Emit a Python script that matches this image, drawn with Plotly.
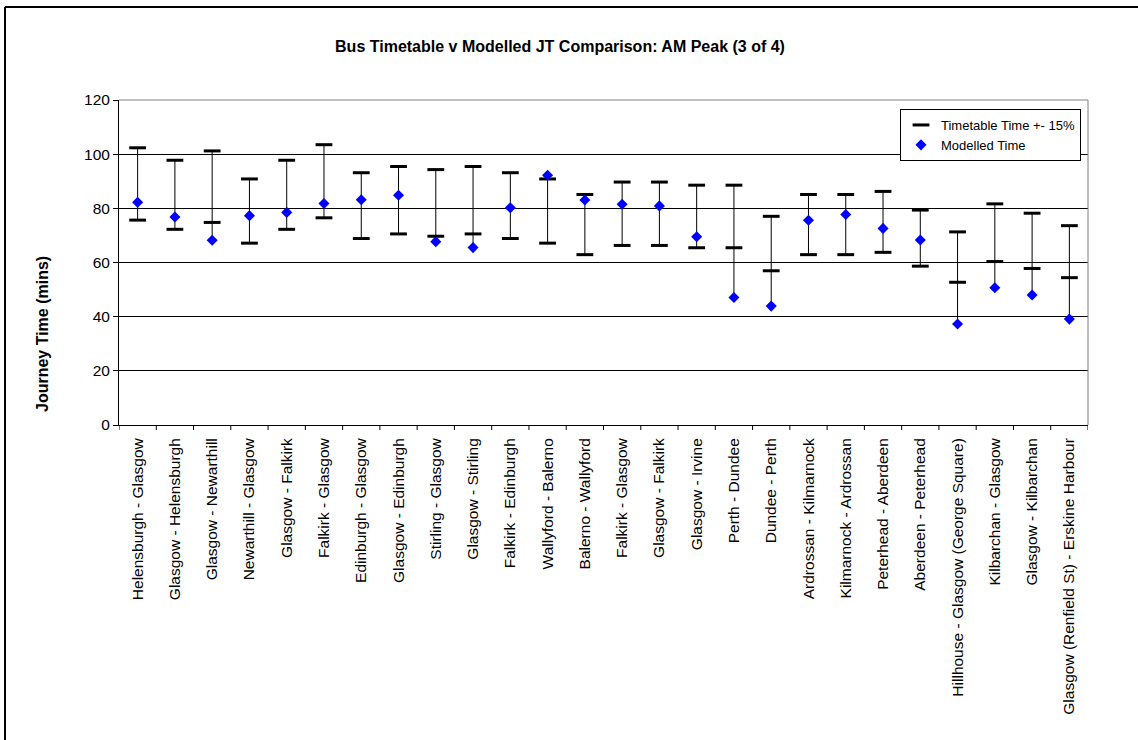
import plotly.graph_objects as go

# Routes shown along the x-axis
routes = [
    "Helensburgh - Glasgow", "Glasgow - Helensburgh", "Glasgow - Newarthill",
    "Newarthill - Glasgow", "Glasgow - Falkirk", "Falkirk - Glasgow",
    "Edinburgh - Glasgow", "Glasgow - Edinburgh", "Stirling - Glasgow",
    "Glasgow - Stirling", "Falkirk - Edinburgh", "Wallyford - Balerno",
    "Balerno - Wallyford", "Falkirk - Glasgow", "Glasgow - Falkirk",
    "Glasgow - Irvine", "Perth - Dundee", "Dundee - Perth",
    "Ardrossan - Kilmarnock", "Kilmarnock - Ardrossan", "Peterhead - Aberdeen",
    "Aberdeen - Peterhead", "Hillhouse - Glasgow (George Square)",
    "Kilbarchan - Glasgow", "Glasgow - Kilbarchan",
    "Glasgow (Renfield St) - Erskine Harbour",
]

# Timetabled journey times (mins)
timetable = [89, 85, 88, 79, 85, 90, 81, 83, 82, 83, 81, 79, 74,
             78, 78, 77, 77, 67, 74, 74, 75, 69, 62, 71, 68, 64]

# Modelled journey times (mins)
modelled = [82.2, 76.8, 68.2, 77.3, 78.5, 81.8, 83.2, 84.8, 67.7, 65.5,
            80.2, 92.2, 83.1, 81.5, 80.9, 69.5, 47.1, 43.9, 75.6, 77.7,
            72.6, 68.3, 37.3, 50.7, 48.0, 39.1]

BAND = 0.15  # timetable tolerance (+/- 15%)
y_ticks = [0, 20, 40, 60, 80, 100, 120]

# Unique x keys so repeated route names stay as separate categories
xkeys = list(range(len(routes)))

upper = [t * (1 + BAND) for t in timetable]
lower = [t * (1 - BAND) for t in timetable]

FONT = "Liberation Sans, Arial, sans-serif"

# High-low lines spanning the band and the modelled value
hl_x, hl_y = [], []
for k, u, l, m in zip(xkeys, upper, lower, modelled):
    hl_x += [k, k, None]
    hl_y += [min(l, m), max(u, m), None]

fig = go.Figure()
fig.add_trace(go.Scatter(
    x=hl_x, y=hl_y, mode="lines",
    line=dict(color="black", width=1),
    showlegend=False, hoverinfo="skip",
))
fig.add_trace(go.Scatter(
    x=xkeys + xkeys, y=upper + lower, mode="markers",
    name="Timetable Time +- 15%",
    marker=dict(symbol="line-ew", size=12, color="black",
                line=dict(color="black", width=3)),
))
fig.add_trace(go.Scatter(
    x=xkeys, y=modelled, mode="markers",
    name="Modelled Time",
    marker=dict(symbol="diamond", size=8.5, color="#0000FF",
                line=dict(width=0)),
))

L, R, T, B = 119, 50, 100, 315
W, H = 1138, 740
plot_w = W - L - R
plot_h = H - T - B


def px_x(p):
    return (p - L) / plot_w


def px_y(p):
    return (H - B - p) / plot_h


shapes = [
    # plot-area border (top and right)
    dict(type="line", xref="paper", yref="paper", x0=0, x1=1, y0=1, y1=1,
         line=dict(color="#808080", width=1), layer="above"),
    dict(type="line", xref="paper", yref="paper", x0=1, x1=1, y0=0, y1=1,
         line=dict(color="#808080", width=1), layer="above"),
    # chart-area frame
    dict(type="line", xref="paper", yref="paper",
         x0=px_x(5), x1=px_x(5), y0=px_y(7), y1=px_y(760),
         line=dict(color="black", width=2)),
    dict(type="line", xref="paper", yref="paper",
         x0=px_x(5), x1=px_x(1160), y0=px_y(7), y1=px_y(7),
         line=dict(color="black", width=2)),
]

fig.update_layout(
    width=W, height=H,
    margin=dict(l=L, r=R, t=T, b=B),
    paper_bgcolor="white", plot_bgcolor="white",
    font=dict(family=FONT, color="black", size=15.5),
    title=dict(
        text="<b>Bus Timetable v Modelled JT Comparison: AM Peak (3 of 4)</b>",
        x=560 / W, xanchor="center", xref="container",
        y=1 - 46 / H, yanchor="middle", yref="container",
        font=dict(family=FONT, size=16, color="black"),
    ),
    xaxis=dict(
        type="linear",
        range=[-0.5, len(routes) - 0.5],
        tickmode="array", tickvals=xkeys, ticktext=routes,
        tickangle=-90, showgrid=False,
        showline=True, linecolor="black", linewidth=1,
        ticks="", zeroline=False, ticklabelstandoff=6,
        tickfont=dict(family=FONT, size=15.5, color="black"),
    ),
    yaxis=dict(
        range=[0, 120], tickvals=y_ticks,
        showgrid=True, gridcolor="black", gridwidth=1,
        showline=True, linecolor="black", linewidth=1,
        ticks="outside", ticklen=5, tickcolor="black",
        zeroline=False,
        tickfont=dict(family=FONT, size=15.5, color="black"),
    ),
    legend=dict(
        x=px_x(900), y=px_y(109), xanchor="left", yanchor="top",
        bgcolor="white", bordercolor="black", borderwidth=1,
        font=dict(family=FONT, size=13, color="black"),
        traceorder="normal", itemwidth=30,
    ),
    shapes=shapes,
    annotations=[dict(
        text="<b>Journey Time (mins)</b>", textangle=-90,
        xref="paper", yref="paper", x=px_x(42), y=px_y(334),
        xanchor="center", yanchor="middle", showarrow=False,
        font=dict(family=FONT, size=16, color="black"),
    )],
)

# Category boundary ticks on the x-axis
for b in range(len(routes) + 1):
    fig.add_shape(type="line", xref="x", yref="paper",
                  x0=b - 0.5, x1=b - 0.5, y0=0, y1=-5 / plot_h,
                  line=dict(color="black", width=1))

fig.write_html("out.html")
